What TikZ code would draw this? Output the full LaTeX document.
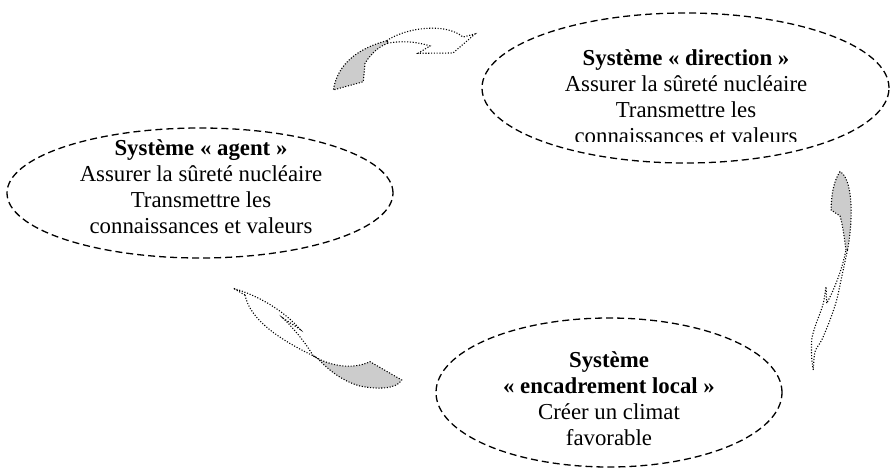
\documentclass[tikz,border=0pt]{standalone}
\usepackage{fontspec}
\setmainfont{Liberation Serif}
\usetikzlibrary{shapes.geometric}
\begin{document}
\begin{tikzpicture}[x=1pt,y=-1pt,
  sysbox/.style={ellipse, draw, line width=1.3pt, dash pattern=on 7pt off 4pt, inner sep=0pt},
  systext/.style={align=center, inner sep=0pt, font=\fontsize{22.8}{26}\selectfont},
  arrowline/.style={line width=1.1pt, dash pattern=on 1.1pt off 1.7pt},
  arrowhead/.style={arrowline, draw, fill=black!20}]
\useasboundingbox (0,0) rectangle (891,474);

% the three systems
\node[sysbox, minimum width=386pt, minimum height=130pt] (agent) at (200,193) {};
\node[sysbox, minimum width=407pt, minimum height=150pt] (direction) at (685.5,88) {};
\node[sysbox, minimum width=346pt, minimum height=149pt] (local) at (609,392.5) {};

\node[systext] (agenttxt) at (201,186.5) {\textbf{Système « agent »}\\Assurer la sûreté nucléaire\\Transmettre les\\connaissances et valeurs};
\begin{scope}
  \clip (480,0) rectangle (891,141);
  \node[systext] (directiontxt) at (686,96.8) {\textbf{Système « direction »}\\Assurer la sûreté nucléaire\\Transmettre les\\connaissances et valeurs};
\end{scope}
\node[systext] (localtxt) at (609,398.5) {\textbf{Système}\\\textbf{« encadrement local »}\\Créer un climat\\favorable};

% curved block arrow: direction -> agent
\path[arrowhead] (386.7,40.7) .. controls (360,48) and (338,62) .. (333.3,90)
  -- (363.3,81.7) .. controls (364,72) .. (365,63.3)
  .. controls (372,52) and (380,46) .. (388.5,43) -- cycle;
\draw[arrowline] (386.7,40.7) .. controls (405,28) and (445,22) .. (463,37)
  -- (475,34) -- (453,53) -- (418,53.3) -- (430,46)
  .. controls (415,41) and (400,41) .. (388.5,43);

% curved block arrow: agent -> encadrement local
\path[arrowhead] (313.3,356) .. controls (330,366) and (352,370) .. (370,361.7)
  -- (401.7,380) .. controls (396,390) and (375,389) .. (360,386)
  .. controls (345,382) and (330,372) .. (316.7,357.5) -- cycle;
\draw[arrowline] (245,295) -- (233.3,288.3) .. controls (260,296) and (285,312) .. (300,329.3)
  -- (283.3,318.3) .. controls (295,330) and (305,342) .. (313.3,356);
\draw[arrowline] (245,295) .. controls (250,320) and (280,340) .. (316.7,357.5);

% curved block arrow: encadrement local -> direction
\path[arrowhead] (846,250) .. controls (844,235) and (842,222) .. (840,216)
  -- (831.2,210) .. controls (831,195) and (834,180) .. (840,171.7)
  .. controls (852,178) and (854,215) .. (847.5,250) -- cycle;
\draw[arrowline] plot[smooth] coordinates {(847.5,250) (841.7,276.7) (836.7,300) (830,320) (821.7,340) (815,351.7) (813.3,370)};
\draw[arrowline] plot[smooth] coordinates {(813.3,370) (811.7,358) (811.7,340) (815,326.7) (820,313.3) (823.3,303.3) (826,286.7)}
  -- (826.7,303.3) .. controls (834,290) and (842,270) .. (846,250);
\end{tikzpicture}
\end{document}
